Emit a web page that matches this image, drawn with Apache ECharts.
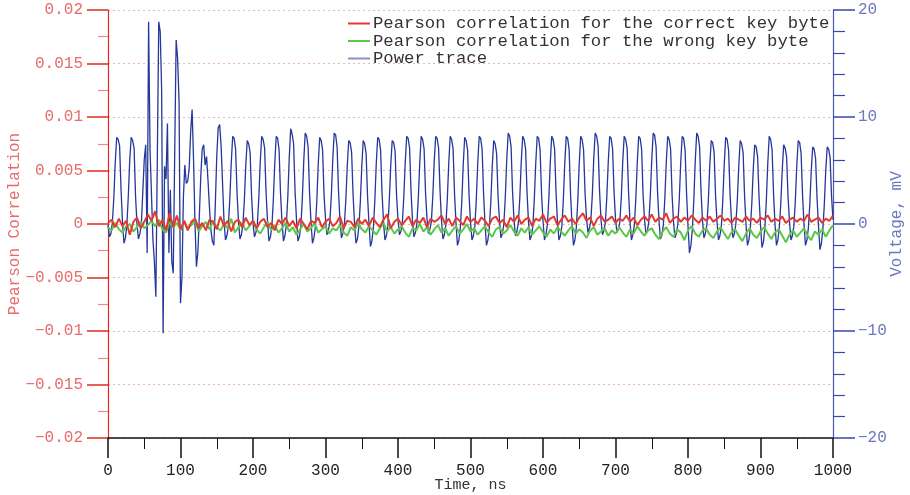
<!DOCTYPE html>
<html>
<head>
<meta charset="utf-8">
<script src="https://cdn.jsdelivr.net/npm/echarts@6/dist/echarts.min.js"></script>
<style>
  html, body { margin: 0; padding: 0; background: #fff; }
  #chart { width: 910px; height: 495px; }
</style>
</head>
<body>
<div id="chart"></div>
<script>
// power trace, mV, one value every 2 ns from 0 to 1000 ns
var powerStep = 2;
var powerTrace = [
  -0.1, -1.2, -0.9, 0.1, 2.4, 5.8, 8.1, 7.9, 7.3, 3.2,
  0.2, -1.8, -1.3, -0.1, 2.6, 6.0, 8.1, 7.8, 7.1, 2.6,
  0.0, -1.4, -0.9, 0.0, 3.0, 6.0, 7.4, -2.7, 18.9, 6.9,
  7.0, -1.5, -3.5, -6.8, 6.0, 18.9, 18.0, 12.5, -10.2, 5.4,
  4.2, 9.4, -2.7, 3.2, -3.5, -4.6, 6.5, 17.2, 15.5, 11.5,
  -7.4, -5.0, 2.5, 5.5, 3.8, 4.0, 5.2, 8.6, 10.7, 6.0,
  0.0, -4.0, -2.6, 0.8, 4.5, 7.0, 7.4, 5.5, 6.3, 4.0,
  1.5, -0.6, -1.6, -2.0, 1.8, 6.3, 9.0, 9.3, 7.3, 3.8,
  0.3, -1.5, -1.1, -0.2, 2.3, 5.7, 8.2, 8.0, 7.0, 2.9,
  0.2, -1.4, -1.0, -0.1, 2.1, 5.4, 7.8, 7.5, 6.7, 2.7,
  0.1, -1.2, -0.8, 0.0, 2.4, 5.8, 8.2, 7.9, 7.1, 3.0,
  0.3, -1.6, -1.2, -0.3, 2.2, 5.6, 8.2, 8.0, 6.9, 2.8,
  0.2, -1.6, -1.1, -0.1, 2.5, 6.2, 8.9, 8.4, 7.5, 3.1,
  0.4, -1.6, -1.2, -0.2, 2.3, 5.9, 8.5, 8.2, 7.2, 2.9,
  0.2, -1.8, -1.3, -0.3, 2.1, 5.6, 8.1, 7.8, 6.9, 2.7,
  0.5, -1.0, -0.6, 0.2, 2.6, 6.0, 8.5, 8.3, 7.2, 3.0,
  0.3, -1.3, -0.9, -0.1, 2.2, 5.4, 7.8, 7.6, 6.7, 2.8,
  0.1, -1.8, -1.4, -0.3, 2.0, 5.3, 7.8, 7.5, 6.6, 2.6,
  0.0, -2.1, -1.6, -0.4, 2.1, 5.6, 8.1, 7.9, 6.9, 2.9,
  0.2, -1.5, -1.1, -0.2, 2.2, 5.5, 7.8, 7.6, 6.8, 2.7,
  0.4, -1.0, -0.7, 0.1, 2.5, 5.8, 8.2, 8.0, 7.1, 3.0,
  0.3, -1.2, -0.8, 0.0, 2.4, 5.7, 8.2, 7.9, 7.0, 2.9,
  0.5, -0.9, -0.5, 0.2, 2.6, 5.9, 8.2, 8.0, 7.1, 3.1,
  0.3, -1.4, -1.0, -0.1, 2.3, 5.7, 8.2, 7.9, 7.0, 2.8,
  0.1, -2.0, -1.5, -0.3, 2.1, 5.6, 8.1, 7.8, 6.9, 2.7,
  0.2, -1.5, -1.1, -0.2, 2.3, 5.7, 8.2, 8.0, 7.0, 2.9,
  0.0, -2.0, -1.5, -0.3, 2.0, 5.4, 7.8, 7.5, 6.6, 2.6,
  0.3, -1.3, -0.9, 0.0, 2.5, 6.0, 8.5, 8.2, 7.2, 3.0,
  0.4, -1.1, -0.7, 0.1, 2.4, 5.8, 8.2, 7.9, 7.0, 2.9,
  0.2, -1.5, -1.1, -0.2, 2.3, 5.7, 8.2, 8.0, 6.9, 2.8,
  0.3, -1.5, -1.0, -0.1, 2.3, 5.7, 8.2, 7.9, 7.0, 2.9,
  0.2, -1.5, -1.1, -0.2, 2.2, 5.6, 8.2, 8.0, 7.0, 2.8,
  0.0, -2.0, -1.5, -0.3, 2.2, 5.7, 8.2, 7.9, 6.9, 2.9,
  0.5, -0.8, -0.4, 0.3, 2.7, 6.1, 8.5, 8.2, 7.3, 3.1,
  0.4, -1.0, -0.6, 0.1, 2.5, 5.8, 8.2, 8.0, 7.0, 3.0,
  0.5, -0.8, -0.5, 0.2, 2.5, 5.9, 8.2, 7.9, 7.1, 3.0,
  0.2, -1.5, -1.0, -0.1, 2.3, 5.7, 8.2, 8.0, 7.0, 2.8,
  0.4, -0.9, -0.6, 0.2, 2.6, 6.0, 8.5, 8.3, 7.2, 3.0,
  0.3, -1.4, -1.0, -0.1, 2.3, 5.7, 8.2, 7.9, 7.0, 2.8,
  0.2, -1.3, -0.9, 0.0, 2.4, 5.8, 8.2, 8.0, 6.9, 2.9,
  -0.2, -2.7, -2.0, -0.5, 2.2, 5.9, 8.5, 8.2, 7.2, 3.0,
  0.3, -1.3, -0.9, -0.1, 2.1, 5.4, 7.8, 7.6, 6.7, 2.7,
  0.2, -1.5, -1.1, -0.2, 2.2, 5.6, 8.1, 7.9, 6.9, 2.8,
  0.3, -1.3, -0.9, 0.0, 2.2, 5.4, 7.8, 7.5, 6.7, 2.7,
  0.0, -2.0, -1.5, -0.4, 1.9, 5.1, 7.4, 7.2, 6.3, 2.5,
  -0.1, -2.2, -1.7, -0.4, 2.1, 5.6, 8.2, 7.9, 6.9, 2.8,
  0.0, -2.0, -1.5, -0.3, 1.9, 5.1, 7.4, 7.1, 6.3, 2.5,
  0.2, -1.5, -1.1, -0.2, 2.1, 5.4, 7.8, 7.6, 6.6, 2.7,
  0.0, -2.0, -1.5, -0.4, 1.8, 5.0, 7.2, 7.0, 6.1, 2.4,
  -0.2, -2.4, -1.8, -0.5, 1.8, 5.0, 7.2, 7.0, 6.2, 2.6,
  0.4
];

// pearson correlations, one value every 5 ns from 0 to 1000 ns
var corrStep = 5;
var corrCorrect = [
  0.0001, 0.0004, -0.0003, 0.0005, -0.0002, 0.0003, -0.0010, 0.0002, 0.0006, -0.0004, 0.0002,
  0.0009, 0.0003, 0.0012, -0.0002, 0.0004, -0.0006, 0.0010, -0.0003, 0.0008, -0.0005,
  0.0003, -0.0006, 0.0002, 0.0005, -0.0004, 0.0001, -0.0006, 0.0004, 0.0002, -0.0005,
  0.0007, -0.0002, 0.0003, -0.0007, 0.0002, 0.0004, -0.0003, 0.0006, -0.0001, 0.0003,
  -0.0004, 0.0002, 0.0005, -0.0003, 0.0001, -0.0006, 0.0004, 0.0000, 0.0006, -0.0002,
  0.0003, -0.0004, 0.0005, 0.0000, -0.0005, 0.0003, 0.0001, 0.0006, -0.0003, 0.0002,
  0.0005, -0.0002, 0.0001, 0.0007, -0.0004, 0.0003, 0.0002, -0.0003, 0.0005, 0.0000,
  0.0004, -0.0002, 0.0006, 0.0001, -0.0003, 0.0004, 0.0009, -0.0004, 0.0002, 0.0005,
  -0.0001, 0.0003, 0.0007, -0.0002, 0.0004, 0.0001, 0.0006, -0.0003, 0.0005, 0.0002,
  0.0004, 0.0008, 0.0000, 0.0005, -0.0002, 0.0006, 0.0003, -0.0001, 0.0007, 0.0002,
  0.0005, 0.0000, 0.0006, 0.0003, -0.0002, 0.0005, 0.0007, 0.0001, 0.0004, -0.0003,
  0.0006, 0.0002, 0.0008, 0.0000, 0.0004, 0.0006, -0.0002, 0.0005, 0.0003, 0.0009,
  0.0001, 0.0005, 0.0007, -0.0001, 0.0004, 0.0008, 0.0002, 0.0005, 0.0000, 0.0006,
  0.0010, 0.0003, 0.0006, -0.0002, 0.0005, 0.0008, 0.0002, 0.0004, 0.0007, 0.0001,
  0.0005, 0.0003, 0.0008, 0.0002, 0.0006, -0.0001, 0.0004, 0.0007, 0.0003, 0.0009,
  0.0002, 0.0006, 0.0004, 0.0010, 0.0001, 0.0005, 0.0007, 0.0002, 0.0006, 0.0003,
  0.0008, 0.0004, 0.0001, 0.0006, 0.0003, 0.0007, 0.0002, 0.0005, 0.0008, 0.0003,
  0.0005, 0.0001, 0.0006, 0.0004, 0.0002, 0.0007, 0.0003, 0.0005, 0.0001, 0.0006,
  0.0004, 0.0008, 0.0002, 0.0005, 0.0003, 0.0007, 0.0001, 0.0004, 0.0006, 0.0002,
  0.0005, 0.0003, 0.0009, 0.0002, 0.0004, 0.0006, 0.0001, 0.0005, 0.0003, 0.0008
];
var corrWrong = [
  -0.0003, -0.0006, 0.0001, -0.0005, -0.0008, -0.0002, 0.0000, -0.0007, -0.0003, 0.0002, -0.0004,
  -0.0001, 0.0003, -0.0002, 0.0004, -0.0005, -0.0008, 0.0002, -0.0003, 0.0001, -0.0006,
  0.0003, -0.0004, -0.0001, 0.0004, -0.0007, -0.0002, 0.0002, -0.0005, 0.0003, -0.0003,
  -0.0006, 0.0000, -0.0004, 0.0005, -0.0008, -0.0003, 0.0001, -0.0006, -0.0002, 0.0003,
  -0.0005, -0.0009, -0.0003, 0.0002, -0.0006, -0.0001, -0.0008, -0.0004, 0.0001, -0.0007,
  -0.0003, -0.0010, -0.0005, 0.0000, -0.0007, -0.0004, 0.0001, -0.0008, -0.0005, -0.0002,
  -0.0009, -0.0004, -0.0006, -0.0001, -0.0008, -0.0011, -0.0003, -0.0006, 0.0001, -0.0005,
  -0.0008, -0.0002, -0.0006, -0.0010, -0.0004, 0.0001, -0.0007, -0.0003, -0.0009, -0.0005,
  -0.0002, -0.0008, -0.0012, -0.0004, -0.0006, 0.0000, -0.0007, -0.0003, -0.0010, -0.0005,
  -0.0001, -0.0008, -0.0004, -0.0011, -0.0006, -0.0002, -0.0009, -0.0005, 0.0000, -0.0007,
  -0.0004, -0.0010, -0.0006, -0.0002, -0.0008, -0.0012, -0.0005, -0.0003, -0.0009, -0.0006,
  -0.0001, -0.0007, -0.0011, -0.0004, -0.0008, -0.0003, -0.0010, -0.0006, -0.0002, -0.0008,
  -0.0012, -0.0005, -0.0009, -0.0003, -0.0007, -0.0011, -0.0006, -0.0002, -0.0009, -0.0005,
  -0.0008, -0.0013, -0.0006, -0.0003, -0.0010, -0.0007, -0.0004, -0.0011, -0.0006, -0.0009,
  -0.0003, -0.0008, -0.0012, -0.0005, -0.0009, -0.0002, -0.0007, -0.0011, -0.0006, -0.0004,
  -0.0010, -0.0014, -0.0007, -0.0003, -0.0009, -0.0012, -0.0005, -0.0008, -0.0015, -0.0006,
  -0.0002, -0.0009, -0.0012, -0.0006, -0.0004, -0.0010, -0.0013, -0.0007, -0.0003, -0.0009,
  -0.0014, -0.0008, -0.0005, -0.0011, -0.0016, -0.0009, -0.0004, -0.0010, -0.0013, -0.0007,
  -0.0003, -0.0009, -0.0014, -0.0008, -0.0005, -0.0011, -0.0017, -0.0010, -0.0006, -0.0012,
  -0.0008, -0.0004, -0.0011, -0.0015, -0.0007, -0.0010, -0.0005, -0.0012, -0.0006, -0.0001
];

var seriesNames = [
  'Pearson correlation for the correct key byte',
  'Pearson correlation for the wrong key byte',
  'Power trace'
];

var mono = 'Liberation Mono';

function minus(s) {
  return s.charAt(0) === '-' ? '\u2212' + s.slice(1) : s;
}

function toPairs(values, step) {
  return values.map(function (v, i) { return [i * step, v]; });
}

var myChart = echarts.init(document.getElementById('chart'));

var option = {
  animation: false,
  backgroundColor: '#fff',
  grid: { left: 108, right: 77, top: 10, bottom: 57, containLabel: false, outerBoundsMode: 'none' },
  legend: {
    orient: 'vertical',
    left: 343,
    top: 10,
    itemWidth: 22,
    itemHeight: 2,
    itemGap: 0.5,
    icon: 'rect',
    textStyle: { fontFamily: mono, fontSize: 17.3, color: '#333', padding: [0, 0, 0, -2] },
    data: [
      { name: seriesNames[0], itemStyle: { color: '#e23a2e' } },
      { name: seriesNames[1], itemStyle: { color: '#5cc64a' } },
      { name: seriesNames[2], itemStyle: { color: '#8591cc' } }
    ]
  },
  xAxis: {
    type: 'value',
    min: 0,
    max: 1000,
    interval: 100,
    name: 'Time, ns',
    nameLocation: 'middle',
    nameGap: 40,
    nameMoveOverlap: false,
    nameTextStyle: { fontFamily: mono, fontSize: 15, color: '#333' },
    axisLine: { onZero: false, lineStyle: { color: '#111', width: 1.5 } },
    axisTick: { length: 20, lineStyle: { color: '#111', width: 1.5 } },
    minorTick: { show: true, splitNumber: 2, length: 11, lineStyle: { color: '#111', width: 1 } },
    axisLabel: {
      fontFamily: mono, fontSize: 16, color: '#222', margin: 25,
      formatter: function (v) { return String(v); }
    },
    splitLine: { show: false }
  },
  yAxis: [
    {
      type: 'value',
      position: 'left',
      min: -0.02,
      max: 0.02,
      interval: 0.005,
      name: 'Pearson Correlation',
      nameLocation: 'middle',
      nameRotate: 90,
      nameGap: 85,
      nameMoveOverlap: false,
      nameTextStyle: { fontFamily: mono, fontSize: 16, color: '#e86a6a' },
      axisLine: { show: true, onZero: false, lineStyle: { color: '#e02a20', width: 1.2 } },
      axisTick: { length: 21, lineStyle: { color: '#e02a20', width: 1.5 } },
      minorTick: { show: true, splitNumber: 2, length: 10, lineStyle: { color: '#ec8a80', width: 1.2 } },
      axisLabel: {
        fontFamily: mono, fontSize: 16, color: '#e86a6a', margin: 25,
        formatter: function (v) { return minus(String(+v.toFixed(3))); }
      },
      splitLine: { show: true, lineStyle: { color: '#eab4b8', type: [2, 3], width: 1 } }
    },
    {
      type: 'value',
      position: 'right',
      min: -20,
      max: 20,
      interval: 10,
      name: 'Voltage, mV',
      nameLocation: 'middle',
      nameRotate: 90,
      nameGap: 56,
      nameMoveOverlap: false,
      nameTextStyle: { fontFamily: mono, fontSize: 16, color: '#6a78c0' },
      axisLine: { show: true, onZero: false, lineStyle: { color: '#4a5aae', width: 1.2 } },
      axisTick: { length: 22, lineStyle: { color: '#3a4aa6', width: 1.5 } },
      minorTick: { show: true, splitNumber: 5, length: 12, lineStyle: { color: '#3a4aa6', width: 1.2 } },
      axisLabel: {
        fontFamily: mono, fontSize: 16, color: '#6a78c0', margin: 25,
        formatter: function (v) { return minus(String(v)); }
      },
      splitLine: { show: false }
    }
  ],
  series: [
    {
      name: seriesNames[2],
      type: 'line',
      yAxisIndex: 1,
      showSymbol: false,
      data: toPairs(powerTrace, powerStep),
      lineStyle: { color: '#24379a', width: 1.3 },
      itemStyle: { color: '#8591cc' },
      z: 2
    },
    {
      name: seriesNames[1],
      type: 'line',
      yAxisIndex: 0,
      showSymbol: false,
      data: toPairs(corrWrong, corrStep),
      lineStyle: { color: '#5cc64a', width: 2 },
      itemStyle: { color: '#5cc64a' },
      z: 3
    },
    {
      name: seriesNames[0],
      type: 'line',
      yAxisIndex: 0,
      showSymbol: false,
      data: toPairs(corrCorrect, corrStep),
      lineStyle: { color: '#e23a2e', width: 2 },
      itemStyle: { color: '#e23a2e' },
      z: 4
    }
  ]
};

myChart.setOption(option);
</script>
</body>
</html>
